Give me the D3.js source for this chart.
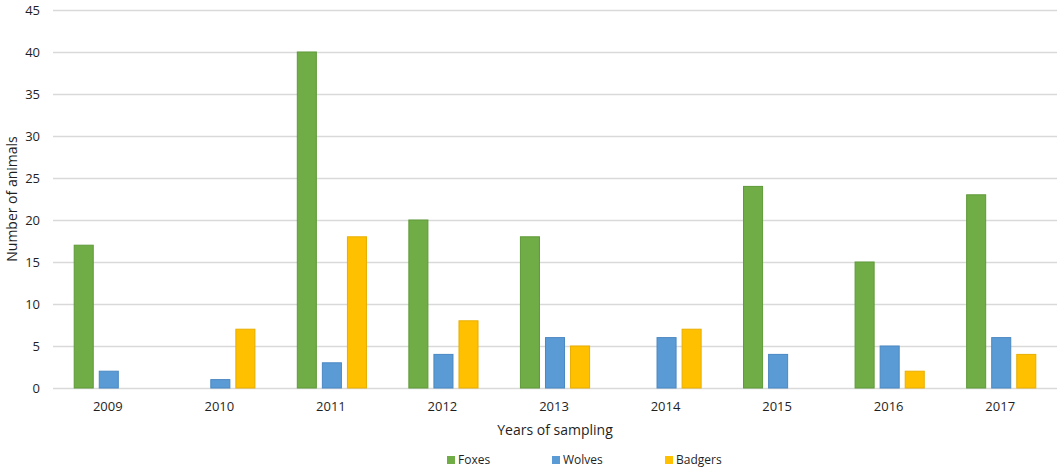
<!DOCTYPE html>
<html>
<head>
<meta charset="utf-8">
<script src="https://cdn.jsdelivr.net/npm/d3@7"></script>
<style>
  body { margin: 0; background: #fff; }
  text { font-family: "Open Sans", "Noto Sans", sans-serif; fill: #1f1f1f; }
</style>
</head>
<body>
<div id="chart"></div>
<script>
const years = ["2009", "2010", "2011", "2012", "2013", "2014", "2015", "2016", "2017"];
const seriesNames = ["Foxes", "Wolves", "Badgers"];
const foxes = [17, 0, 40, 20, 18, 0, 24, 15, 23];
const wolves = [2, 1, 3, 4, 6, 6, 4, 5, 6];
const badgers = [0, 7, 18, 8, 5, 7, 0, 2, 4];
const yTicks = [0, 5, 10, 15, 20, 25, 30, 35, 40, 45];

const width = 1063;
const height = 471;
const marginLeft = 53;
const marginRight = 6;
const marginTop = 10;
const plotBottom = 388;

const colors = { Foxes: "#70AD47", Wolves: "#5B9BD5", Badgers: "#FFC000" };
const strokes = { Foxes: "#5e9a38", Wolves: "#4a88c2", Badgers: "#e8ae00" };

const table = years.map((y, i) => ({
    year: y,
    values: [
        { name: "Foxes", value: foxes[i] },
        { name: "Wolves", value: wolves[i] },
        { name: "Badgers", value: badgers[i] }
    ]
}));

const x0 = d3.scaleBand()
    .domain(years)
    .range([marginLeft, width - marginRight])
    .paddingInner(0.38)
    .paddingOuter(0.19);

const x1 = d3.scaleBand()
    .domain(seriesNames)
    .range([0, x0.bandwidth()])
    .paddingInner(0.24);

const y = d3.scaleLinear()
    .domain([0, 45])
    .range([plotBottom, marginTop]);

const svg = d3.create("svg")
    .attr("width", width)
    .attr("height", height);

// gridlines
svg.append("g")
    .selectAll("line")
    .data(yTicks)
    .join("line")
    .attr("x1", marginLeft)
    .attr("x2", width - marginRight)
    .attr("y1", d => Math.round(y(d)) + 0.5)
    .attr("y2", d => Math.round(y(d)) + 0.5)
    .attr("stroke", "#d9d9d9")
    .attr("stroke-width", 1.3);

// y tick labels
svg.append("g")
    .selectAll("text")
    .data(yTicks)
    .join("text")
    .attr("x", 40)
    .attr("y", d => y(d))
    .attr("dy", "0.35em")
    .attr("text-anchor", "end")
    .style("font-size", "13px")
    .text(d => d);

// bars
const groups = svg.append("g")
    .selectAll("g")
    .data(table)
    .join("g")
    .attr("transform", d => `translate(${x0(d.year)},0)`);

groups.selectAll("rect")
    .data(d => d.values.filter(v => v.value > 0))
    .join("rect")
    .attr("x", d => x1(d.name))
    .attr("y", d => y(d.value))
    .attr("width", x1.bandwidth())
    .attr("height", d => y(0) - y(d.value))
    .attr("fill", d => colors[d.name])
    .attr("stroke", d => strokes[d.name])
    .attr("stroke-width", 1);

// x tick labels
svg.append("g")
    .selectAll("text")
    .data(years)
    .join("text")
    .attr("x", d => x0(d) + x0.bandwidth() / 2 - 1)
    .attr("y", 411)
    .attr("text-anchor", "middle")
    .style("font-size", "13px")
    .text(d => d);

// axis titles
svg.append("text")
    .attr("x", 555)
    .attr("y", 435)
    .attr("text-anchor", "middle")
    .style("font-size", "14px")
    .text("Years of sampling");

svg.append("text")
    .attr("text-anchor", "middle")
    .attr("transform", `translate(17,${(marginTop + plotBottom) / 2}) rotate(-90)`)
    .style("font-size", "14px")
    .text("Number of animals");

// legend
const legendX = [447, 552, 665];
const legend = svg.append("g")
    .selectAll("g")
    .data(seriesNames)
    .join("g")
    .attr("transform", (d, i) => `translate(${legendX[i]},460)`);

legend.append("rect")
    .attr("x", 0)
    .attr("y", -4)
    .attr("width", 8)
    .attr("height", 8)
    .attr("fill", d => colors[d]);

legend.append("text")
    .attr("x", 11)
    .attr("y", 0)
    .attr("dy", "0.35em")
    .style("font-size", "12px")
    .text(d => d);

document.getElementById("chart").append(svg.node());
</script>
</body>
</html>
